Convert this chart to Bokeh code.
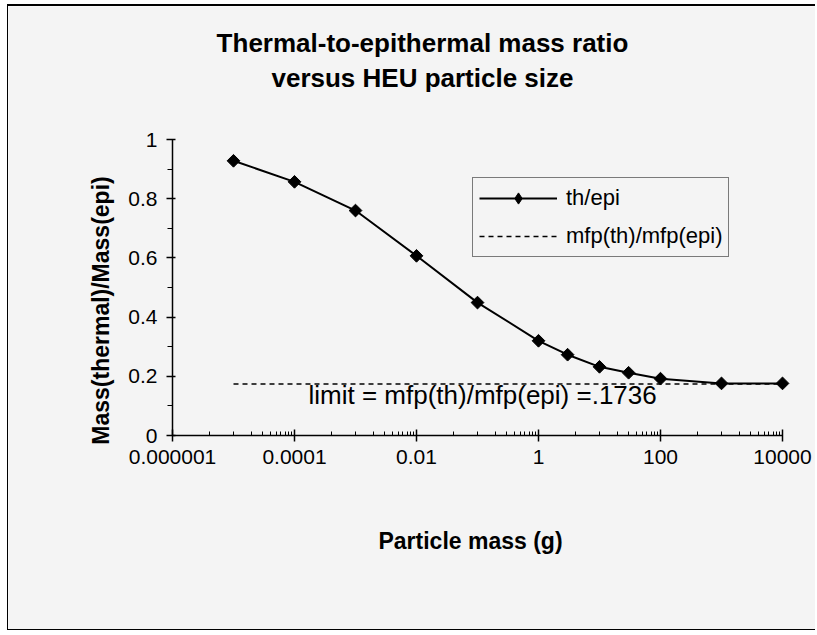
import math
from bokeh.plotting import figure
from bokeh.models import FixedTicker, Label, Legend, LegendItem, Range1d
from bokeh.embed import file_html
from bokeh.resources import INLINE

# ---- data ----
mass = [1e-5, 1e-4, 1e-3, 1e-2, 1e-1, 1, 3, 10, 30, 100, 1000, 10000]
ratio = [0.928, 0.857, 0.760, 0.607, 0.449, 0.320, 0.273, 0.232, 0.212, 0.192, 0.176, 0.176]
limit_mass = [1e-5, 1e4]
limit_value = 0.1736
limit_ratio = [limit_value, limit_value]

x_ticks = [1e-6, 1e-4, 1e-2, 1, 100, 1e4]
x_tick_labels = ["0.000001", "0.0001", "0.01", "1", "100", "10000"]
y_ticks = [0, 0.2, 0.4, 0.6, 0.8, 1]
y_tick_labels = ["0", "0.2", "0.4", "0.6", "0.8", "1"]
y_minor = [0.1, 0.3, 0.5, 0.7, 0.9]

title_lines = ["Thermal-to-epithermal mass ratio", "versus HEU particle size"]
x_label = "Particle mass (g)"
y_label = "Mass(thermal)/Mass(epi)"
note = "limit = mfp(th)/mfp(epi) =.1736"
series_names = ["th/epi", "mfp(th)/mfp(epi)"]

FONT = "Liberation Sans"
BG = "#f4f4f4"

# ---- layout (pixels) ----
W, H = 808, 626
AX_LEFT = 164          # x of 1e-6 inside canvas
PX_PER_DECADE = 61.0
AX_BOTTOM = 197        # y of 0 measured from canvas bottom
PX_PER_UNIT = 296.0
x_lo = 10 ** (math.log10(x_ticks[0]) - AX_LEFT / PX_PER_DECADE)
x_hi = 10 ** (math.log10(x_ticks[0]) + (W - AX_LEFT) / PX_PER_DECADE)
y_lo = -AX_BOTTOM / PX_PER_UNIT
y_hi = (H - AX_BOTTOM) / PX_PER_UNIT

# minor ticks as seen on the reference: one at 4x the major value,
# then every 10x step up to the next major tick
x_minor = []
for t in x_ticks[:-1]:
    x_minor.append(4 * t)
    for m in range(1, 10):
        x_minor.append(m * 10 * t)

p = figure(width=W, height=H, x_axis_type="log",
           x_range=Range1d(x_lo, x_hi), y_range=Range1d(y_lo, y_hi),
           output_backend="svg", toolbar_location=None, min_border=0)
p.background_fill_color = BG
p.border_fill_color = BG
p.outline_line_color = None
p.xgrid.visible = False
p.ygrid.visible = False
p.styles = {"border-left": "1px solid black", "border-top": "2px solid black",
            "border-bottom": "1px solid black", "margin-left": "7px", "margin-top": "4px"}

# axes, placed inside the frame at data locations
for ax in (p.xaxis[0], p.yaxis[0]):
    ax.axis_line_color = "black"
    ax.axis_line_width = 1.5
    ax.major_tick_line_color = "black"
    ax.minor_tick_line_color = "black"
    ax.major_tick_line_width = 1.5
    ax.minor_tick_line_width = 1
    ax.major_label_text_font = FONT
    ax.major_label_text_font_size = "21px"
    ax.major_label_text_color = "black"

p.xaxis.fixed_location = y_ticks[0]
p.xaxis.bounds = (x_ticks[0], x_ticks[-1])
p.xaxis.ticker = FixedTicker(ticks=x_ticks, minor_ticks=x_minor)
p.xaxis.major_label_overrides = {t: l for t, l in zip(x_ticks, x_tick_labels)}
p.xaxis.major_tick_in = 6
p.xaxis.major_tick_out = 6
p.xaxis.minor_tick_in = 4
p.xaxis.minor_tick_out = 0
p.xaxis.major_label_standoff = 8

p.yaxis.fixed_location = x_ticks[0]
p.yaxis.bounds = (y_ticks[0], y_ticks[-1])
p.yaxis.ticker = FixedTicker(ticks=y_ticks, minor_ticks=y_minor)
p.yaxis.major_label_overrides = {t: l for t, l in zip(y_ticks, y_tick_labels)}
p.yaxis.major_tick_in = 3
p.yaxis.major_tick_out = 6
p.yaxis.minor_tick_in = 0
p.yaxis.minor_tick_out = 5
p.yaxis.major_label_standoff = 9

# series
r_line = p.line(mass, ratio, line_color="black", line_width=2)
r_pts = p.scatter(mass, ratio, marker="square", angle=0.785398, size=9,
                  fill_color="black", line_color="black")
r_lim = p.line(limit_mass, limit_ratio, line_color="black", line_width=1.5, line_dash="5 4")

# legend-only glyph (hidden in plot): diamond marker on a line
leg_pts = p.scatter(mass[:1], ratio[:1], marker="diamond", size=14,
                    fill_color="black", line_color="black", visible=False)

legend = Legend(items=[LegendItem(label=series_names[0], renderers=[r_line, leg_pts]),
                       LegendItem(label=series_names[1], renderers=[r_lim])],
                location=(464, 375))
legend.label_text_font = FONT
legend.label_text_font_size = "22px"
legend.label_text_color = "black"
legend.glyph_width = 78
legend.glyph_height = 28
legend.label_height = 28
legend.spacing = 10
legend.padding = 6
legend.margin = 0
legend.label_standoff = 9
legend.border_line_color = "black"
legend.border_line_width = 1.5
legend.background_fill_color = BG
legend.background_fill_alpha = 1
p.add_layout(legend, "center")

def add_text(text, sx, sy, size, bold=False, angle=0.0, align="center", baseline="middle"):
    p.add_layout(Label(x=sx, y=sy, x_units="screen", y_units="screen", text=text,
                       angle=angle, text_font=FONT, text_font_size=size,
                       text_font_style="bold" if bold else "normal", text_color="black",
                       text_align=align, text_baseline=baseline))

add_text(title_lines[0], 414, 590, "26px", bold=True)
add_text(title_lines[1], 414, 555, "26px", bold=True)
add_text(x_label, 462, 92, "23px", bold=True)
add_text(y_label, 92, 322, "23px", bold=True, angle=math.pi / 2)
add_text(note, 300, 238, "26px", align="left", baseline="alphabetic")

open("out.html", "w").write(file_html(p, INLINE))
